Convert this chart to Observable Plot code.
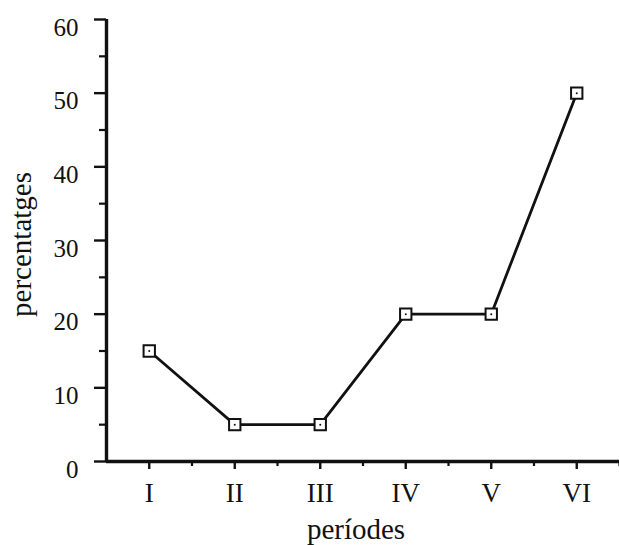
<!DOCTYPE html>
<html><head><meta charset="utf-8">
<script src="https://cdn.jsdelivr.net/npm/d3@7"></script>
<script src="https://cdn.jsdelivr.net/npm/@observablehq/plot@0.6"></script>
<style>body{margin:0;background:#fff} svg{display:block}</style>
</head><body><div id="chart"></div>
<script>
const periods = ["I", "II", "III", "IV", "V", "VI"];
const percentages = [15, 5, 5, 20, 20, 50];
const yMajorTicks = [0, 10, 20, 30, 40, 50, 60];
const yMinorTicks = [5, 15, 25, 35, 45, 55];
const xLabel = "períodes";
const yLabel = "percentatges";

const data = periods.map((p, i) => ({period: p, pos: i + 1, value: percentages[i]}));
const xMajor = periods.map((p, i) => i + 1);
const xMinor = periods.map((p, i) => i + 1.5);

const chart = Plot.plot({
  width: 619, height: 545,
  marginLeft: 106, marginRight: 0, marginTop: 19, marginBottom: 84,
  style: {fontFamily: "'Liberation Serif', 'Times New Roman', serif", fontSize: "25px", color: "#111", background: "#fff"},
  x: {domain: [0.5, 6.5], axis: null},
  y: {domain: [0, 60], axis: null},
  marks: [
    Plot.axisY(yMajorTicks, {tickSize: 12, tickFormat: () => "", strokeWidth: 2.4, label: null}),
    Plot.text(yMajorTicks, {y: d => d, text: d => String(d), frameAnchor: "left", dx: -28, dy: 8, textAnchor: "end", fontSize: 25, fill: "#111"}),
    Plot.axisY(yMinorTicks, {tickSize: 7, tickFormat: () => "", strokeWidth: 2.2, label: null}),
    Plot.axisX(xMajor, {tickSize: 8, tickPadding: 13, strokeWidth: 2.4, label: null, fontSize: 27, tickFormat: d => periods[d - 1]}),
    Plot.axisX(xMinor, {tickSize: 5, tickFormat: () => "", strokeWidth: 2.2, label: null}),
    Plot.ruleX([0.5], {y1: 0, y2: 60, strokeWidth: 3.4, stroke: "#111"}),
    Plot.ruleY([0], {x1: 0.5, x2: 6.5, strokeWidth: 3.4, stroke: "#111"}),
    Plot.line(data, {x: "pos", y: "value", stroke: "#111", strokeWidth: 2.8}),
    Plot.dot(data, {x: "pos", y: "value", symbol: "square", r: 6.4, stroke: "#111", fill: "white", strokeWidth: 2}),
    Plot.dot(data, {x: "pos", y: "value", r: 1, fill: "#111"}),
    Plot.text([yLabel], {frameAnchor: "left", dx: -76, dy: 4, rotate: -90, textAnchor: "middle", lineAnchor: "bottom", fontSize: 29, fill: "#111"}),
    Plot.text([xLabel], {frameAnchor: "bottom", dx: -7, dy: 77, textAnchor: "middle", lineAnchor: "bottom", fontSize: 29, fill: "#111"})
  ]
});
document.getElementById("chart").appendChild(chart);
</script>
</body></html>
